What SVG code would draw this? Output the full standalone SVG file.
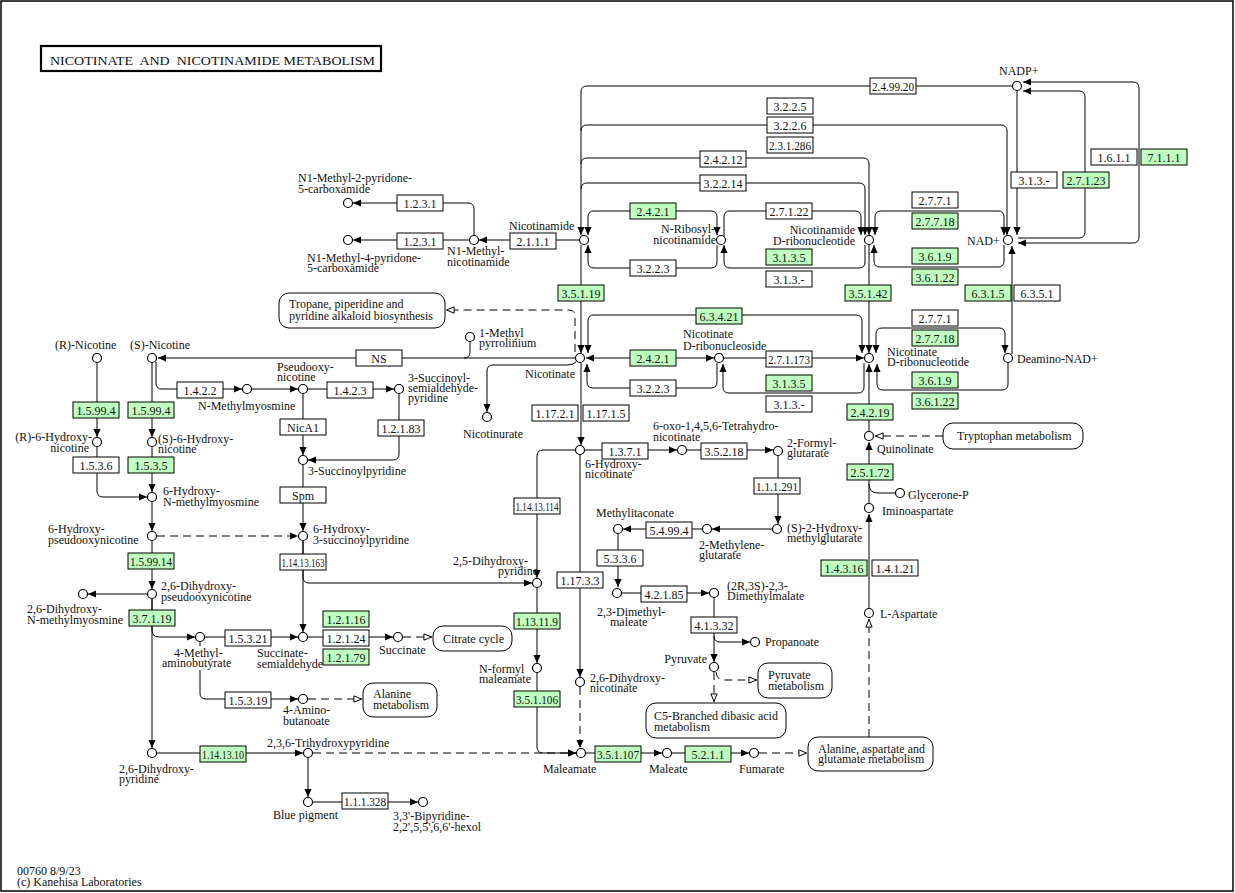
<svg xmlns="http://www.w3.org/2000/svg" width="1235" height="893" viewBox="0 0 1235 893">
<style>
text{font-family:"Liberation Serif","Times New Roman",serif;font-size:12px;fill:#111}
.c{fill:#fff;stroke:#000;stroke-width:1.2}
.e rect{fill:#fff;stroke:#000;stroke-width:1}
.g rect{fill:#bfffbf}
.e text{text-anchor:middle}
.m rect{fill:#fff;stroke:#000;stroke-width:1}
#conn path{fill:none;stroke:#000;stroke-width:1}
#conn .d{stroke-dasharray:8,5}
.a{marker-end:url(#ah)}
.b{marker-start:url(#ah);marker-end:url(#ah)}
.o{marker-end:url(#oh)}
</style>
<defs>
<marker id="ah" viewBox="0 0 10 10" refX="10" refY="5" markerWidth="8" markerHeight="8" markerUnits="userSpaceOnUse" orient="auto-start-reverse"><path d="M0,0.5L10,5L0,9.5z" fill="#000"/></marker>
<marker id="oh" viewBox="0 0 10 10" refX="10" refY="5" markerWidth="9" markerHeight="9" markerUnits="userSpaceOnUse" orient="auto-start-reverse"><path d="M1,1.5L9.5,5L1,8.5z" fill="#fff" stroke="#000" stroke-width="1.1"/></marker>
</defs>
<rect x="0" y="0" width="1235" height="893" fill="#fff"/>
<rect x="1" y="1" width="1232" height="890" fill="none" stroke="#000" stroke-width="1.5"/>
<g id="title"><rect x="41" y="46" width="340" height="25" fill="#fff" stroke="#000" stroke-width="2.2"/><text x="50" y="65" style="white-space:pre;font-size:13.5px" textLength="325" lengthAdjust="spacingAndGlyphs">NICOTINATE  AND  NICOTINAMIDE METABOLISM</text></g>

<g id="conn">
<path class="a" d="M1012,86 L587,86 Q581,86 581,92 L581,235"/>
<path class="a" d="M581,131 Q581,125 587,125 L1001,125 Q1007,125 1007,131 L1007,235"/>
<path class="a" d="M581,164 Q581,158 587,158 L863,158 Q869,158 869,164 L869,235"/>
<path class="a" d="M581,189 Q581,183 587,183 L859,183 Q865,183 865,189 L865,235"/>
<path class="b" d="M588,235 L588,217 Q588,211 594,211 L711,211 Q717,211 717,217 L717,235"/>
<path class="a" d="M717,245 L717,262 Q717,268 711,268 L594,268 Q588,268 588,262 L588,245"/>
<path class="a" d="M724,236 L724,217 Q724,211 730,211 L855,211 Q861,211 861,217 L861,235"/>
<path class="a" d="M865,245 L865,262 Q865,268 859,268 L730,268 Q724,268 724,262 L724,245"/>
<path class="b" d="M875,235 L875,217 Q875,211 881,211 L998,211 Q1004,211 1004,217 L1004,235"/>
<path class="a" d="M1004,245 L1004,261 Q1004,267 998,267 L880,267 Q874,267 874,261 L874,245"/>
<path class="a" d="M869,245 L869,353"/>
<path class="a" d="M1017,91 L1017,235"/>
<path class="b" d="M1023,82 L1133,82 Q1139,82 1139,88 L1139,237 Q1139,243 1133,243 L1018,243"/>
<path class="a" d="M1018,238 L1079,238 Q1085,238 1085,232 L1085,97 Q1085,91 1079,91 L1023,91"/>
<path class="a" d="M1012,354 L1012,246"/>
<path class="a" d="M579,240 L479,240"/>
<path class="a" d="M469,240 L353,240"/>
<path class="a" d="M474,235 L474,209 Q474,203 468,203 L353,203"/>
<path class="a" d="M581,245 L581,353"/>
<path class="o d" d="M575,352 L575,316 Q575,310 569,310 L446,310"/>
<path class="b" d="M588,353 L588,321 Q588,315 594,315 L856,315 Q862,315 862,321 L862,353"/>
<path class="b" d="M586,358 L714,358"/>
<path class="a" d="M717,363 L717,382 Q717,388 711,388 L593,388 Q587,388 587,382 L587,364"/>
<path class="a" d="M724,358 L864,358"/>
<path class="a" d="M864,363 L864,387 Q864,393 858,393 L729,393 Q723,393 723,387 L723,364"/>
<path class="b" d="M876,353 L876,334 Q876,328 882,328 L999,328 Q1005,328 1005,334 L1005,353"/>
<path class="a" d="M1008,363 L1008,384 Q1008,390 1002,390 L883,390 Q877,390 877,384 L877,364"/>
<path class="a" d="M869,431 L869,364"/>
<path class="o d" d="M943,436 L875,436"/>
<path class="a" d="M869,503 L869,442"/>
<path d="M869,484 Q869,493 878,493 L895,493"/>
<path class="a" d="M869,608 L869,514"/>
<path class="o d" d="M869,737 L869,619"/>
<path class="a" d="M575,358 L158,358"/>
<path d="M464,358 Q470,358 470,352 L470,342"/>
<path class="a" d="M576,362 Q573,365 567,365 L493,365 Q487,365 487,371 L487,412"/>
<path class="a" d="M581,363 L581,445"/>
<path class="a" d="M585,450 L677,450"/>
<path class="a" d="M687,450 L773,450"/>
<path class="a" d="M778,456 L778,524"/>
<path class="a" d="M772,529 L712,529"/>
<path class="a" d="M702,529 L623,529"/>
<path class="a" d="M618,534 L618,587"/>
<path class="a" d="M622,593 L709,593"/>
<path class="a" d="M714,598 L714,662"/>
<path class="a" d="M714,636 Q714,642 720,642 L750,642"/>
<path class="o d" d="M714,672 L714,702"/>
<path class="o d" d="M716,672 Q717,680 723,680 L757,680"/>
<path class="a" d="M575,450 L543,450 Q537,450 537,456 L537,578"/>
<path class="a" d="M537,588 L537,663"/>
<path class="a" d="M537,673 L537,747 Q537,753 543,753 L576,753"/>
<path class="a" d="M580,455 L580,677"/>
<path class="a d" d="M580,687 L580,748"/>
<path class="a d" d="M313,753 L576,753"/>
<path class="a" d="M586,753 L662,753"/>
<path class="a" d="M672,753 L749,753"/>
<path class="o d" d="M759,753 L807,753"/>
<path class="a" d="M152,363 L152,437"/>
<path class="a" d="M156,362 L156,383 Q156,389 162,389 L242,389"/>
<path class="a" d="M252,389 L298,389"/>
<path class="a" d="M97,363 L97,437"/>
<path class="a" d="M97,447 L97,491 Q97,497 103,497 L147,497"/>
<path class="a" d="M152,447 L152,492"/>
<path class="a" d="M152,502 L152,531"/>
<path class="a" d="M152,541 L152,589"/>
<path class="a d" d="M157,536 L298,536"/>
<path class="a" d="M147,594 L88,594"/>
<path class="a" d="M152,599 L152,630 Q152,637 159,637 L195,637"/>
<path class="a" d="M152,599 L152,748"/>
<path class="a" d="M205,637 L298,637"/>
<path class="a" d="M200,642 L200,646 M200,670 L200,693 Q200,699 206,699 L298,699"/>
<path class="o d" d="M308,699 L362,699"/>
<path class="a" d="M308,637 L393,637"/>
<path class="o d" d="M403,637 L432,637"/>
<path class="a" d="M157,753 L303,753"/>
<path class="a" d="M308,758 L308,797"/>
<path class="a" d="M313,802 L418,802"/>
<path class="a" d="M308,389 L394,389"/>
<path class="a" d="M399,394 L399,454 Q399,460 393,460 L308,460"/>
<path class="a" d="M303,394 L303,455"/>
<path class="a" d="M303,465 L303,531"/>
<path class="a" d="M303,541 L303,577 Q303,583 309,583 L532,583"/>
<path class="a" d="M303,541 L303,632"/>
</g>

<g id="maps">
<g id="map_tropane" class="m"><rect x="279" y="293" width="166" height="35" rx="10"/><text x="289" y="308">Tropane, piperidine and</text><text x="289" y="320">pyridine alkaloid biosynthesis</text></g>
<g id="map_trp" class="m"><rect x="943" y="423" width="140" height="26" rx="10"/><text x="957" y="440">Tryptophan metabolism</text></g>
<g id="map_tca" class="m"><rect x="433" y="626" width="79" height="25" rx="10"/><text x="443" y="643">Citrate cycle</text></g>
<g id="map_ala" class="m"><rect x="363" y="683" width="74" height="34" rx="10"/><text x="373" y="698">Alanine</text><text x="373" y="709">metabolism</text></g>
<g id="map_pyr" class="m"><rect x="758" y="663" width="74" height="35" rx="10"/><text x="768" y="679">Pyruvate</text><text x="768" y="690">metabolism</text></g>
<g id="map_c5" class="m"><rect x="646" y="703" width="140" height="35" rx="10"/><text x="654" y="720">C5-Branched dibasic acid</text><text x="654" y="731">metabolism</text></g>
<g id="map_asp" class="m"><rect x="808" y="737" width="125" height="34" rx="10"/><text x="818" y="753">Alanine, aspartate and</text><text x="818" y="763">glutamate metabolism</text></g>
</g>

<g id="enzymes">
<g id="e_2_4_99_20" class="e"><rect x="870" y="78" width="46" height="16"/><text x="893" y="91" textLength="42" lengthAdjust="spacingAndGlyphs">2.4.99.20</text></g>
<g id="e_3_2_2_5" class="e"><rect x="767" y="98" width="46" height="16"/><text x="790" y="111">3.2.2.5</text></g>
<g id="e_3_2_2_6" class="e"><rect x="767" y="117" width="46" height="16"/><text x="790" y="130">3.2.2.6</text></g>
<g id="e_2_3_1_286" class="e"><rect x="767" y="137" width="46" height="16"/><text x="790" y="150" textLength="42" lengthAdjust="spacingAndGlyphs">2.3.1.286</text></g>
<g id="e_2_4_2_12" class="e"><rect x="700" y="151" width="46" height="16"/><text x="723" y="164">2.4.2.12</text></g>
<g id="e_3_2_2_14" class="e"><rect x="700" y="175" width="46" height="16"/><text x="723" y="188">3.2.2.14</text></g>
<g id="e_2_4_2_1a" class="e g"><rect x="630" y="203" width="46" height="16"/><text x="653" y="216">2.4.2.1</text></g>
<g id="e_2_7_1_22" class="e"><rect x="766" y="203" width="46" height="16"/><text x="789" y="216">2.7.1.22</text></g>
<g id="e_3_2_2_3a" class="e"><rect x="630" y="260" width="46" height="16"/><text x="653" y="273">3.2.2.3</text></g>
<g id="e_3_1_3_5a" class="e g"><rect x="766" y="249" width="46" height="16"/><text x="789" y="262">3.1.3.5</text></g>
<g id="e_3_1_3_xa" class="e"><rect x="766" y="271" width="46" height="16"/><text x="789" y="284">3.1.3.-</text></g>
<g id="e_3_5_1_42" class="e g"><rect x="845" y="285" width="46" height="16"/><text x="868" y="298">3.5.1.42</text></g>
<g id="e_3_5_1_19" class="e g"><rect x="558" y="285" width="46" height="16"/><text x="581" y="298">3.5.1.19</text></g>
<g id="e_2_1_1_1" class="e"><rect x="510" y="233" width="46" height="16"/><text x="533" y="246">2.1.1.1</text></g>
<g id="e_1_2_3_1a" class="e"><rect x="397" y="195" width="46" height="16"/><text x="420" y="208">1.2.3.1</text></g>
<g id="e_1_2_3_1b" class="e"><rect x="397" y="233" width="46" height="16"/><text x="420" y="246">1.2.3.1</text></g>
<g id="e_2_7_7_1a" class="e"><rect x="912" y="192" width="46" height="16"/><text x="935" y="205">2.7.7.1</text></g>
<g id="e_2_7_7_18a" class="e g"><rect x="912" y="213" width="46" height="16"/><text x="935" y="226">2.7.7.18</text></g>
<g id="e_3_6_1_9a" class="e g"><rect x="912" y="248" width="46" height="16"/><text x="935" y="261">3.6.1.9</text></g>
<g id="e_3_6_1_22a" class="e g"><rect x="912" y="269" width="46" height="16"/><text x="935" y="282">3.6.1.22</text></g>
<g id="e_3_1_3_xb" class="e"><rect x="1011" y="172" width="46" height="16"/><text x="1034" y="185">3.1.3.-</text></g>
<g id="e_2_7_1_23" class="e g"><rect x="1063" y="172" width="46" height="16"/><text x="1086" y="185">2.7.1.23</text></g>
<g id="e_1_6_1_1" class="e"><rect x="1091" y="149" width="46" height="16"/><text x="1114" y="162">1.6.1.1</text></g>
<g id="e_7_1_1_1" class="e g"><rect x="1141" y="149" width="46" height="16"/><text x="1164" y="162">7.1.1.1</text></g>
<g id="e_6_3_1_5" class="e g"><rect x="965" y="285" width="46" height="16"/><text x="988" y="298">6.3.1.5</text></g>
<g id="e_6_3_5_1" class="e"><rect x="1014" y="285" width="46" height="16"/><text x="1037" y="298">6.3.5.1</text></g>
<g id="e_6_3_4_21" class="e g"><rect x="696" y="308" width="46" height="16"/><text x="719" y="321">6.3.4.21</text></g>
<g id="e_2_4_2_1b" class="e g"><rect x="630" y="350" width="46" height="16"/><text x="653" y="363">2.4.2.1</text></g>
<g id="e_3_2_2_3b" class="e"><rect x="630" y="380" width="46" height="16"/><text x="653" y="393">3.2.2.3</text></g>
<g id="e_2_7_1_173" class="e"><rect x="766" y="351" width="46" height="16"/><text x="789" y="364" textLength="42" lengthAdjust="spacingAndGlyphs">2.7.1.173</text></g>
<g id="e_3_1_3_5b" class="e g"><rect x="766" y="375" width="46" height="16"/><text x="789" y="388">3.1.3.5</text></g>
<g id="e_3_1_3_xc" class="e"><rect x="766" y="396" width="46" height="16"/><text x="789" y="409">3.1.3.-</text></g>
<g id="e_2_7_7_1b" class="e"><rect x="912" y="310" width="46" height="16"/><text x="935" y="323">2.7.7.1</text></g>
<g id="e_2_7_7_18b" class="e g"><rect x="912" y="330" width="46" height="16"/><text x="935" y="343">2.7.7.18</text></g>
<g id="e_3_6_1_9b" class="e g"><rect x="912" y="372" width="46" height="16"/><text x="935" y="385">3.6.1.9</text></g>
<g id="e_3_6_1_22b" class="e g"><rect x="912" y="393" width="46" height="16"/><text x="935" y="406">3.6.1.22</text></g>
<g id="e_2_4_2_19" class="e g"><rect x="847" y="404" width="46" height="16"/><text x="870" y="417">2.4.2.19</text></g>
<g id="e_2_5_1_72" class="e g"><rect x="847" y="464" width="46" height="16"/><text x="870" y="477">2.5.1.72</text></g>
<g id="e_1_4_3_16" class="e g"><rect x="821" y="560" width="46" height="16"/><text x="844" y="573">1.4.3.16</text></g>
<g id="e_1_4_1_21" class="e"><rect x="872" y="560" width="46" height="16"/><text x="895" y="573">1.4.1.21</text></g>
<g id="e_NS" class="e"><rect x="356" y="350" width="46" height="16"/><text x="379" y="363">NS</text></g>
<g id="e_1_4_2_2" class="e"><rect x="177" y="382" width="46" height="16"/><text x="200" y="395">1.4.2.2</text></g>
<g id="e_1_4_2_3" class="e"><rect x="327" y="382" width="46" height="16"/><text x="350" y="395">1.4.2.3</text></g>
<g id="e_NicA1" class="e"><rect x="280" y="419" width="46" height="16"/><text x="303" y="432">NicA1</text></g>
<g id="e_1_2_1_83" class="e"><rect x="378" y="420" width="46" height="16"/><text x="401" y="433">1.2.1.83</text></g>
<g id="e_Spm" class="e"><rect x="280" y="487" width="46" height="16"/><text x="303" y="500">Spm</text></g>
<g id="e_1_14_13_163" class="e"><rect x="280" y="554" width="46" height="16"/><text x="303" y="567" textLength="43" lengthAdjust="spacingAndGlyphs">1.14.13.163</text></g>
<g id="e_1_5_99_4a" class="e g"><rect x="73" y="402" width="46" height="16"/><text x="96" y="415">1.5.99.4</text></g>
<g id="e_1_5_99_4b" class="e g"><rect x="128" y="402" width="46" height="16"/><text x="151" y="415">1.5.99.4</text></g>
<g id="e_1_5_3_6" class="e"><rect x="73" y="457" width="46" height="16"/><text x="96" y="470">1.5.3.6</text></g>
<g id="e_1_5_3_5" class="e g"><rect x="128" y="457" width="46" height="16"/><text x="151" y="470">1.5.3.5</text></g>
<g id="e_1_5_99_14" class="e g"><rect x="128" y="553" width="46" height="16"/><text x="151" y="566" textLength="42" lengthAdjust="spacingAndGlyphs">1.5.99.14</text></g>
<g id="e_1_17_2_1" class="e"><rect x="532" y="405" width="46" height="16"/><text x="555" y="418">1.17.2.1</text></g>
<g id="e_1_17_1_5" class="e"><rect x="583" y="405" width="46" height="16"/><text x="606" y="418">1.17.1.5</text></g>
<g id="e_1_3_7_1" class="e"><rect x="602" y="443" width="46" height="16"/><text x="625" y="456">1.3.7.1</text></g>
<g id="e_3_5_2_18" class="e"><rect x="701" y="443" width="46" height="16"/><text x="724" y="456">3.5.2.18</text></g>
<g id="e_1_1_1_291" class="e"><rect x="754" y="478" width="46" height="16"/><text x="777" y="491" textLength="42" lengthAdjust="spacingAndGlyphs">1.1.1.291</text></g>
<g id="e_1_14_13_114" class="e"><rect x="514" y="498" width="46" height="16"/><text x="537" y="511" textLength="43" lengthAdjust="spacingAndGlyphs">1.14.13.114</text></g>
<g id="e_5_4_99_4" class="e"><rect x="646" y="522" width="46" height="16"/><text x="669" y="535">5.4.99.4</text></g>
<g id="e_5_3_3_6" class="e"><rect x="597" y="550" width="46" height="16"/><text x="620" y="563">5.3.3.6</text></g>
<g id="e_1_17_3_3" class="e"><rect x="557" y="572" width="46" height="16"/><text x="580" y="585">1.17.3.3</text></g>
<g id="e_3_7_1_19" class="e g"><rect x="129" y="610" width="46" height="16"/><text x="152" y="623">3.7.1.19</text></g>
<g id="e_1_5_3_21" class="e"><rect x="225" y="630" width="46" height="16"/><text x="248" y="643">1.5.3.21</text></g>
<g id="e_1_5_3_19" class="e"><rect x="225" y="692" width="46" height="16"/><text x="248" y="705">1.5.3.19</text></g>
<g id="e_1_2_1_16" class="e g"><rect x="323" y="611" width="46" height="16"/><text x="346" y="624">1.2.1.16</text></g>
<g id="e_1_2_1_24" class="e"><rect x="323" y="630" width="46" height="16"/><text x="346" y="643">1.2.1.24</text></g>
<g id="e_1_2_1_79" class="e g"><rect x="323" y="649" width="46" height="16"/><text x="346" y="662">1.2.1.79</text></g>
<g id="e_1_13_11_9" class="e g"><rect x="514" y="613" width="46" height="16"/><text x="537" y="626" textLength="42" lengthAdjust="spacingAndGlyphs">1.13.11.9</text></g>
<g id="e_3_5_1_106" class="e g"><rect x="514" y="691" width="46" height="16"/><text x="537" y="704" textLength="42" lengthAdjust="spacingAndGlyphs">3.5.1.106</text></g>
<g id="e_4_2_1_85" class="e"><rect x="641" y="586" width="46" height="16"/><text x="664" y="599">4.2.1.85</text></g>
<g id="e_4_1_3_32" class="e"><rect x="691" y="617" width="46" height="16"/><text x="714" y="630">4.1.3.32</text></g>
<g id="e_1_14_13_10" class="e g"><rect x="200" y="746" width="46" height="16"/><text x="223" y="759" textLength="42" lengthAdjust="spacingAndGlyphs">1.14.13.10</text></g>
<g id="e_1_1_1_328" class="e"><rect x="342" y="793" width="46" height="16"/><text x="365" y="806" textLength="42" lengthAdjust="spacingAndGlyphs">1.1.1.328</text></g>
<g id="e_3_5_1_107" class="e g"><rect x="595" y="746" width="46" height="16"/><text x="618" y="759" textLength="42" lengthAdjust="spacingAndGlyphs">3.5.1.107</text></g>
<g id="e_5_2_1_1" class="e g"><rect x="685" y="746" width="46" height="16"/><text x="708" y="759">5.2.1.1</text></g>
</g>

<g id="compounds">
<g id="c_nadp"><circle class="c" cx="1017" cy="86" r="4.5"/><text x="999" y="75">NADP+</text></g>
<g id="c_nad"><circle class="c" cx="1008" cy="240" r="4.5"/><text x="967" y="245">NAD+</text></g>
<g id="c_nicotinamide"><circle class="c" cx="584" cy="240" r="4.5"/><text x="509" y="230">Nicotinamide</text></g>
<g id="c_nr"><circle class="c" cx="721" cy="240" r="4.5"/><text x="715" y="233" text-anchor="end">N-Ribosyl-</text><text x="716" y="244" text-anchor="end">nicotinamide</text></g>
<g id="c_nmn"><circle class="c" cx="869" cy="240" r="4.5"/><text x="855" y="234" text-anchor="end">Nicotinamide</text><text x="855" y="245" text-anchor="end">D-ribonucleotide</text></g>
<g id="c_mna"><circle class="c" cx="474" cy="240" r="4.5"/><text x="447" y="255">N1-Methyl-</text><text x="447" y="266">nicotinamide</text></g>
<g id="c_2py"><circle class="c" cx="348" cy="203" r="4.5"/><text x="298" y="182">N1-Methyl-2-pyridone-</text><text x="298" y="193">5-carboxamide</text></g>
<g id="c_4py"><circle class="c" cx="348" cy="240" r="4.5"/><text x="307" y="262">N1-Methyl-4-pyridone-</text><text x="307" y="272">5-carboxamide</text></g>
<g id="c_nicotinate"><circle class="c" cx="580" cy="358" r="4.5"/><text x="525" y="378">Nicotinate</text></g>
<g id="c_nar"><circle class="c" cx="719" cy="358" r="4.5"/><text x="683" y="338">Nicotinate</text><text x="683" y="350">D-ribonucleoside</text></g>
<g id="c_namn"><circle class="c" cx="869" cy="358" r="4.5"/><text x="887" y="356">Nicotinate</text><text x="887" y="366">D-ribonucleotide</text></g>
<g id="c_deamino"><circle class="c" cx="1008" cy="358" r="4.5"/><text x="1017" y="363">Deamino-NAD+</text></g>
<g id="c_mpyr"><circle class="c" cx="470" cy="337" r="4.5"/><text x="479" y="337">1-Methyl</text><text x="479" y="347">pyrrolinium</text></g>
<g id="c_nicotinurate"><circle class="c" cx="487" cy="417" r="4.5"/><text x="463" y="438">Nicotinurate</text></g>
<g id="c_rnic"><circle class="c" cx="97" cy="358" r="4.5"/><text x="55" y="349">(R)-Nicotine</text></g>
<g id="c_snic"><circle class="c" cx="152" cy="358" r="4.5"/><text x="130" y="349">(S)-Nicotine</text></g>
<g id="c_nmm"><circle class="c" cx="247" cy="389" r="4.5"/><text x="198" y="410">N-Methylmyosmine</text></g>
<g id="c_pon"><circle class="c" cx="303" cy="389" r="4.5"/><text x="277" y="371">Pseudooxy-</text><text x="277" y="381">nicotine</text></g>
<g id="c_3ssap"><circle class="c" cx="399" cy="389" r="4.5"/><text x="408" y="382">3-Succinoyl-</text><text x="408" y="392">semialdehyde-</text><text x="408" y="402">pyridine</text></g>
<g id="c_r6hn"><circle class="c" cx="97" cy="442" r="4.5"/><text x="92" y="441" text-anchor="end">(R)-6-Hydroxy-</text><text x="89" y="452" text-anchor="end">nicotine</text></g>
<g id="c_s6hn"><circle class="c" cx="152" cy="442" r="4.5"/><text x="158" y="443">(S)-6-Hydroxy-</text><text x="158" y="453">nicotine</text></g>
<g id="c_3sp"><circle class="c" cx="303" cy="460" r="4.5"/><text x="308" y="475">3-Succinoylpyridine</text></g>
<g id="c_6hnmm"><circle class="c" cx="152" cy="497" r="4.5"/><text x="163" y="495">6-Hydroxy-</text><text x="163" y="506">N-methylmyosmine</text></g>
<g id="c_6hpon"><circle class="c" cx="152" cy="536" r="4.5"/><text x="48" y="533">6-Hydroxy-</text><text x="48" y="544">pseudooxynicotine</text></g>
<g id="c_6h3sp"><circle class="c" cx="303" cy="536" r="4.5"/><text x="313" y="533">6-Hydroxy-</text><text x="313" y="544">3-succinoylpyridine</text></g>
<g id="c_26dhpon"><circle class="c" cx="152" cy="594" r="4.5"/><text x="161" y="590">2,6-Dihydroxy-</text><text x="161" y="601">pseudooxynicotine</text></g>
<g id="c_26dhnmm"><circle class="c" cx="83" cy="594" r="4.5"/><text x="27" y="613">2,6-Dihydroxy-</text><text x="27" y="624">N-methylmyosmine</text></g>
<g id="c_4mab"><circle class="c" cx="200" cy="637" r="4.5"/><text x="174" y="657">4-Methyl-</text><text x="162" y="667">aminobutyrate</text></g>
<g id="c_ssa"><circle class="c" cx="303" cy="637" r="4.5"/><text x="257" y="657">Succinate-</text><text x="257" y="668">semialdehyde</text></g>
<g id="c_succ"><circle class="c" cx="398" cy="637" r="4.5"/><text x="379" y="654">Succinate</text></g>
<g id="c_gaba"><circle class="c" cx="303" cy="699" r="4.5"/><text x="283" y="714">4-Amino-</text><text x="283" y="725">butanoate</text></g>
<g id="c_26dhp"><circle class="c" cx="152" cy="753" r="4.5"/><text x="119" y="773">2,6-Dihydroxy-</text><text x="119" y="783">pyridine</text></g>
<g id="c_236thp"><circle class="c" cx="308" cy="753" r="4.5"/><text x="267" y="747">2,3,6-Trihydroxypyridine</text></g>
<g id="c_blue"><circle class="c" cx="308" cy="802" r="4.5"/><text x="273" y="819">Blue pigment</text></g>
<g id="c_bipy"><circle class="c" cx="423" cy="802" r="4.5"/><text x="393" y="820">3,3'-Bipyridine-</text><text x="393" y="831">2,2',5,5',6,6'-hexol</text></g>
<g id="c_6hna"><circle class="c" cx="580" cy="450" r="4.5"/><text x="585" y="468">6-Hydroxy-</text><text x="585" y="478">nicotinate</text></g>
<g id="c_6oxo"><circle class="c" cx="682" cy="450" r="4.5"/><text x="653" y="430">6-oxo-1,4,5,6-Tetrahydro-</text><text x="653" y="441">nicotinate</text></g>
<g id="c_2fg"><circle class="c" cx="778" cy="451" r="4.5"/><text x="787" y="447">2-Formyl-</text><text x="787" y="457">glutarate</text></g>
<g id="c_s2hmg"><circle class="c" cx="777" cy="529" r="4.5"/><text x="787" y="532">(S)-2-Hydroxy-</text><text x="787" y="542">methylglutarate</text></g>
<g id="c_2mg"><circle class="c" cx="707" cy="529" r="4.5"/><text x="699" y="549">2-Methylene-</text><text x="699" y="559">glutarate</text></g>
<g id="c_mita"><circle class="c" cx="618" cy="529" r="4.5"/><text x="596" y="517">Methylitaconate</text></g>
<g id="c_25dhp"><circle class="c" cx="537" cy="583" r="4.5"/><text x="453" y="565">2,5-Dihydroxy-</text><text x="498" y="575">pyridine</text></g>
<g id="c_23dmm"><circle class="c" cx="617" cy="593" r="4.5"/><text x="597" y="616">2,3-Dimethyl-</text><text x="610" y="626">maleate</text></g>
<g id="c_dmmal"><circle class="c" cx="714" cy="593" r="4.5"/><text x="727" y="590">(2R,3S)-2,3-</text><text x="727" y="600">Dimethylmalate</text></g>
<g id="c_prop"><circle class="c" cx="755" cy="642" r="4.5"/><text x="765" y="646">Propanoate</text></g>
<g id="c_pyr"><circle class="c" cx="714" cy="667" r="4.5"/><text x="707" y="663" text-anchor="end">Pyruvate</text></g>
<g id="c_nfm"><circle class="c" cx="537" cy="668" r="4.5"/><text x="479" y="673">N-formyl</text><text x="479" y="683">maleamate</text></g>
<g id="c_26dhn"><circle class="c" cx="580" cy="682" r="4.5"/><text x="590" y="682">2,6-Dihydroxy-</text><text x="590" y="692">nicotinate</text></g>
<g id="c_maleamate"><circle class="c" cx="581" cy="753" r="4.5"/><text x="543" y="773">Maleamate</text></g>
<g id="c_maleate"><circle class="c" cx="667" cy="753" r="4.5"/><text x="649" y="773">Maleate</text></g>
<g id="c_fumarate"><circle class="c" cx="754" cy="753" r="4.5"/><text x="739" y="773">Fumarate</text></g>
<g id="c_quin"><circle class="c" cx="869" cy="436" r="4.5"/><text x="877" y="453">Quinolinate</text></g>
<g id="c_imino"><circle class="c" cx="869" cy="508" r="4.5"/><text x="882" y="515">Iminoaspartate</text></g>
<g id="c_glyp"><circle class="c" cx="900" cy="493" r="4.5"/><text x="908" y="499">Glycerone-P</text></g>
<g id="c_lasp"><circle class="c" cx="869" cy="613" r="4.5"/><text x="880" y="618">L-Aspartate</text></g>
</g>

<g id="footer"><text x="17" y="875">00760 8/9/23</text><text x="17" y="886">(c) Kanehisa Laboratories</text></g>
</svg>
